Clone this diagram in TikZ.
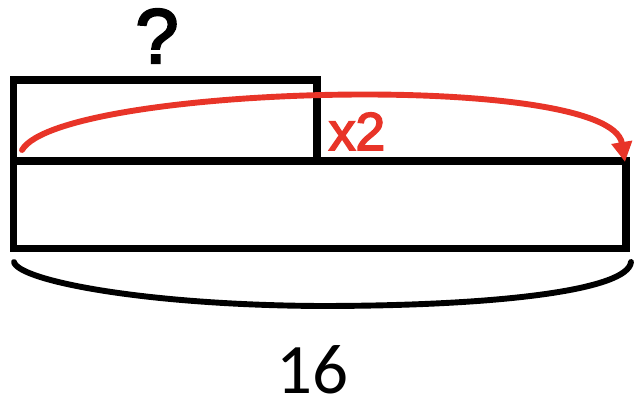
\documentclass[tikz,border=0pt]{standalone}
\usepackage{fontspec}
\setmainfont{Liberation Sans}
\newfontfamily\markfont[FakeBold=3]{Liberation Sans}
\newfontfamily\numfont{Carlito}
\usetikzlibrary{arrows.meta}
\definecolor{timesred}{RGB}{232,52,40}

\begin{document}
\begin{tikzpicture}[x=0.025cm,y=-0.025cm,
    bar/.style={draw=black,line width=5pt},
    timesarc/.style={draw=timesred,line width=4.2pt,line cap=round,-{Triangle[length=0.5cm,width=0.5cm]}},
    total/.style={draw=black,line width=4.2pt,line cap=round}]
    \useasboundingbox (0,0) rectangle (640,406);
    % the two bars
    \draw[bar] (13.5,161) -- (13.5,80) -- (317,80) -- (317,161);
    \draw[bar] (13.5,161) rectangle (626,248.5);
    \coordinate (from) at (22,150);
    \coordinate (to) at (625,162);
    \draw[timesarc] (from) .. controls (60,85) and (610,70) .. (to);
    \node[timesred,font=\markfont\fontsize{38}{38}\selectfont,anchor=base,inner sep=0pt] (times) at (357,150) {x2};
    \node[font=\markfont\fontsize{55}{55}\selectfont,anchor=base,inner sep=0pt] (unknown) at (157,63) {?};
    % brace under the long bar
    \coordinate (left) at (14,262);
    \coordinate (right) at (631,262);
    \draw[total] (left) .. controls (18,280) and (140,305) .. (320,306)
        .. controls (500,306) and (628,290) .. (right);
    \node[font=\numfont\fontsize{50.5}{50.5}\selectfont,anchor=base,inner sep=0pt] (sum) at (312,394) {16};
\end{tikzpicture}
\end{document}
